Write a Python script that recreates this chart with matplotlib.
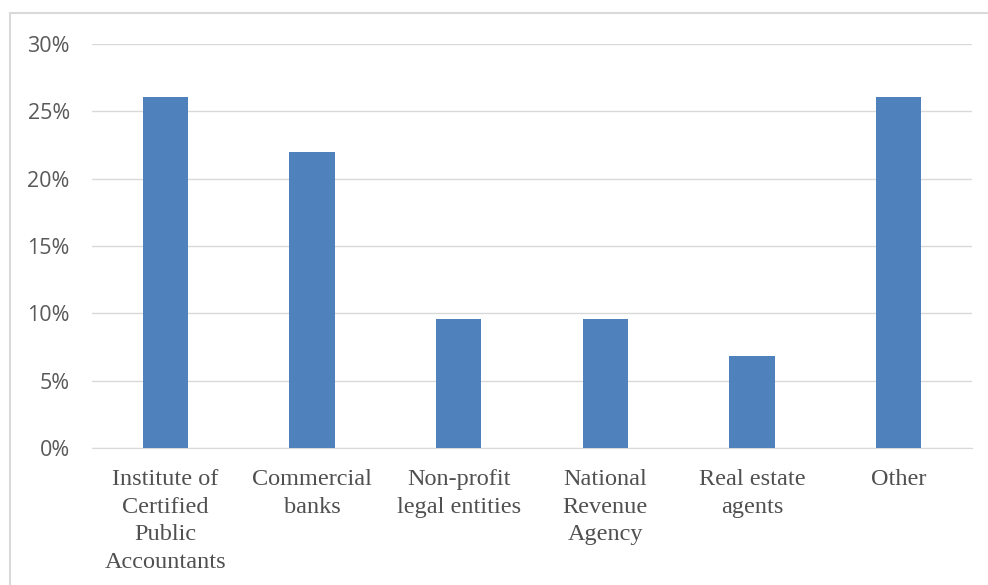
import matplotlib.pyplot as plt
from matplotlib.patches import Rectangle
from matplotlib.ticker import PercentFormatter

# respondents by type of reporting entity
categories = [
    "Institute of\nCertified\nPublic\nAccountants",
    "Commercial\nbanks",
    "Non-profit\nlegal entities",
    "National\nRevenue\nAgency",
    "Real estate\nagents",
    "Other",
]
shares = [26.1, 22.0, 9.6, 9.6, 6.8, 26.1]
yticks = [0, 5, 10, 15, 20, 25, 30]

fig = plt.figure(figsize=(9.88, 5.85), dpi=100)
ax = fig.add_axes([92 / 988, 1 - 448 / 585, 880 / 988, (448 - 44) / 585])

# outer chart frame (light gray, cut off at the right/bottom like the original)
fig.patches.append(Rectangle((10 / 988, -0.1), 1.2, (585 - 13) / 585 + 0.1,
                             transform=fig.transFigure, fill=False,
                             edgecolor="#d9d9d9", lw=1.5))

x = range(len(categories))
ax.bar(x, shares, width=0.31, color="#4f81bd", zorder=3)

ax.set_xlim(-0.5, len(categories) - 0.5)
ax.set_ylim(0, 30)
ax.set_yticks(yticks)
ax.yaxis.set_major_formatter(PercentFormatter(decimals=0))
ax.grid(axis="y", color="#d9d9d9", lw=1, zorder=0)

for s in ["top", "right", "left"]:
    ax.spines[s].set_visible(False)
ax.spines["bottom"].set_color("#d9d9d9")

ax.set_xticks(list(x))
ax.set_xticklabels(categories, fontfamily="Liberation Serif", fontsize=17.5,
                   color="#505050", linespacing=1.42)
ax.tick_params(axis="x", length=0, pad=15)
ax.tick_params(axis="y", length=0, pad=16, labelsize=15.5, labelcolor="#595959")
for t in ax.get_yticklabels():
    t.set_fontfamily("Open Sans")

fig.savefig("out.png", dpi=100)
